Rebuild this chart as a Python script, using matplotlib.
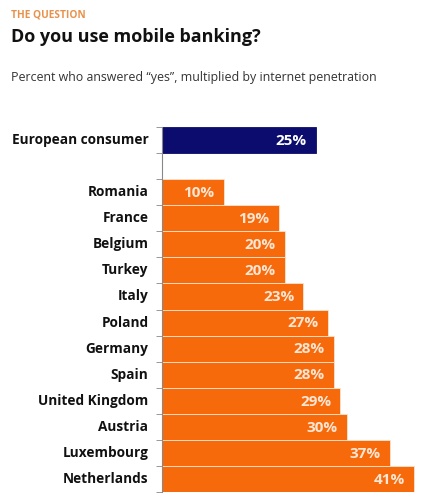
import matplotlib
matplotlib.use("Agg")
import matplotlib.pyplot as plt
import numpy as np

plt.rcParams['font.family'] = ['Open Sans', 'DejaVu Sans']

categories = ["European consumer", "", "Romania", "France", "Belgium", "Turkey", "Italy",
              "Poland", "Germany", "Spain", "United Kingdom", "Austria",
              "Luxembourg", "Netherlands"]
values = [25, None, 10, 19, 20, 20, 23, 27, 28, 28, 29, 30, 37, 41]

orange = '#f76a0c'
navy = '#0b0c6e'

fig = plt.figure(figsize=(4.3, 5.03), dpi=100)
W, H = 430, 503
ax = fig.add_axes([162 / W, 11 / H, (422 - 162) / W, 365 / H])

for i, (cat, v) in enumerate(zip(categories, values)):
    if v is None:
        continue
    col = navy if i == 0 else orange
    ax.barh(i, v, height=1.0, color=col, edgecolor='#fbe3d0' if i else navy, linewidth=0.6)
    ax.text(v - 1.5, i + 0.03, f"{v}%", ha='right', va='center', color='white' if i == 0 else '#fde6d4',
            fontsize=11, fontweight='bold')
    ax.text(-2.2, i, cat, ha='right', va='center', fontsize=9.8, fontweight='bold', color='#111111')

ax.set_xlim(0, (422 - 162) / 6.15)
ax.set_ylim(len(categories) - 0.5, -0.5)
for s in ['top', 'right', 'bottom']:
    ax.spines[s].set_visible(False)
ax.spines['left'].set_color('#888888')
ax.spines['left'].set_linewidth(0.8)
ax.set_xticks([])
ax.set_yticks(np.arange(len(categories) + 1) - 0.5)
ax.set_yticklabels([])
ax.tick_params(axis='y', length=4, width=0.6, color='#888888')

fig.text(11 / W, 1 - 15 / H, "THE QUESTION", fontsize=7.3, color='#e8914a', fontweight='bold', va='center')
fig.text(11 / W, 1 - 37 / H, "Do you use mobile banking?", fontsize=13, color='#111111', fontweight='bold', va='center')
fig.text(11 / W, 1 - 78 / H, "Percent who answered \u201cyes\u201d, multiplied by internet penetration",
         fontsize=8.9, color='#333333', va='center')

fig.savefig("out.png", dpi=100)
